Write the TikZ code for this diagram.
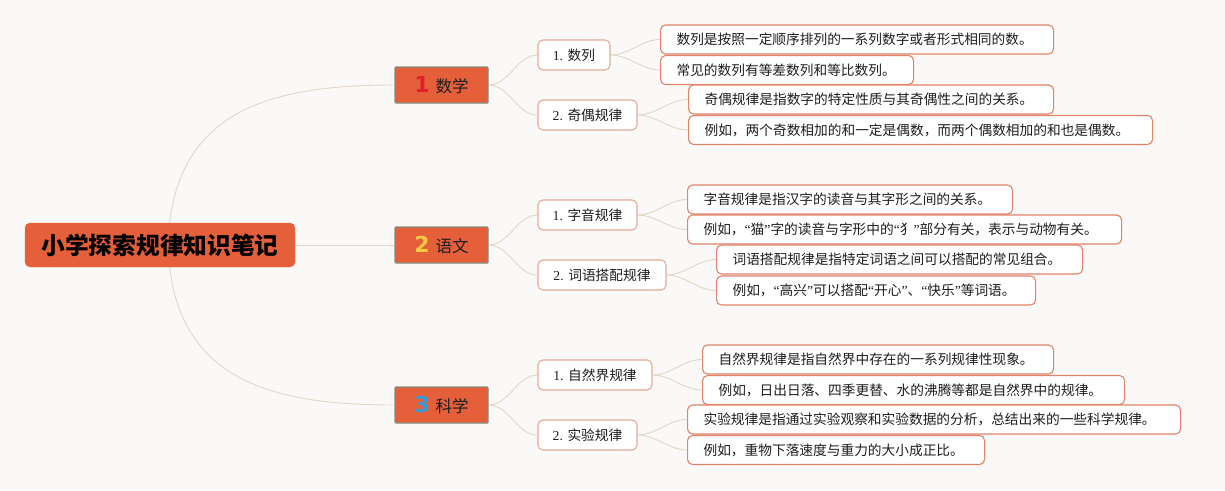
\documentclass[tikz,border=0pt]{standalone}
\usepackage{fontspec}
\setmainfont{Liberation Serif}
\newfontfamily\cjk{Noto Sans CJK SC}
\newfontfamily\numfont{DejaVu Sans}
\newfontfamily\qfont{Liberation Serif}
\newcommand\myoq{{\qfont “}}
\newcommand\mycq{{\qfont ”}}
\newcommand\ltxt[2]{\makebox[\dimexpr#1pt-32pt\relax][l]{#2}}
\definecolor{bg}{HTML}{FAF9F8}
\definecolor{orng}{HTML}{E5603A}
\definecolor{lonebd}{HTML}{868A78}
\definecolor{ltwobd}{HTML}{E2AC98}
\definecolor{lthreebd}{HTML}{E0846A}
\definecolor{link}{HTML}{E3D6C6}
\definecolor{txt}{HTML}{1E1E1E}
\definecolor{nred}{HTML}{E0202A}
\definecolor{nyel}{HTML}{F6C945}
\definecolor{nblu}{HTML}{2F9BDA}
\tikzset{
  rootbox/.style={fill=orng, draw=orng!90!white, rounded corners=5pt, minimum width=270pt, minimum height=44pt, inner sep=2pt, font=\cjk\bfseries\fontsize{23.7}{26}\selectfont, text=black},
  lonebox/.style={fill=orng, draw=lonebd, line width=1.4pt, rounded corners=1pt, minimum width=93pt, minimum height=36pt, inner sep=2pt, font=\cjk\fontsize{16.5}{18}\selectfont, text=txt},
  ltwobox/.style={fill=white, draw=ltwobd, line width=1.1pt, rounded corners=5pt, minimum height=30pt, inner sep=2pt, font=\fontsize{13.7}{15}\selectfont, text=txt},
  lthreebox/.style={fill=white, draw=lthreebd, line width=1.1pt, rounded corners=5pt, minimum height=29pt, inner ysep=2pt, inner xsep=16pt, anchor=west, font=\cjk\fontsize{13.7}{15}\selectfont, text=txt},
  conn/.style={draw=link, line width=0.9pt},
  sconn/.style={conn, out=0, in=180, looseness=0.9}
}
\begin{document}
\begin{tikzpicture}[x=1pt,y=-1pt]
\fill[bg] (0,0) rectangle (1225,490);
\useasboundingbox (0,0) rectangle (1225,490);
% level 1
\node[lonebox] (a) at (441.5,85) {{\numfont\bfseries\fontsize{22}{24}\selectfont\color{nred}1}\hspace{6pt}数学};
\node[lonebox] (b) at (441.5,245) {{\numfont\bfseries\fontsize{22}{24}\selectfont\color{nyel}2}\hspace{6pt}语文};
\node[lonebox] (c) at (441.5,405) {{\numfont\bfseries\fontsize{22}{24}\selectfont\color{nblu}3}\hspace{6pt}科学};
% root connectors (behind root)
\coordinate (ra) at (168,245);
\coordinate (rc) at (168,245);
\draw[conn] (ra) .. controls (172,110) and (270,85) .. (a.west);
\draw[conn] (rc) .. controls (172,380) and (270,405) .. (c.west);
\node[rootbox] (root) at (160,245) {小学探索规律知识笔记};
\draw[conn] (root.east) -- (b.west);
% level 2
\node[ltwobox, minimum width=72pt] (a1) at (574,55) {1. {\cjk 数列}};
\node[ltwobox, minimum width=99pt] (a2) at (587.5,115) {2. {\cjk 奇偶规律}};
\node[ltwobox, minimum width=99pt] (b1) at (587.5,215) {1. {\cjk 字音规律}};
\node[ltwobox, minimum width=128pt] (b2) at (602,275) {2. {\cjk 词语搭配规律}};
\node[ltwobox, minimum width=114pt] (c1) at (595,375) {1. {\cjk 自然界规律}};
\node[ltwobox, minimum width=99pt] (c2) at (587.5,435) {2. {\cjk 实验规律}};
% level 3
\node[lthreebox] (a11) at (660,39.5) {\ltxt{393}{数列是按照一定顺序排列的一系列数字或者形式相同的数。}};
\node[lthreebox] (a12) at (660,70) {\ltxt{253}{常见的数列有等差数列和等比数列。}};
\node[lthreebox] (a21) at (688,99.5) {\ltxt{365}{奇偶规律是指数字的特定性质与其奇偶性之间的关系。}};
\node[lthreebox] (a22) at (688,130) {\ltxt{464}{例如，两个奇数相加的和一定是偶数，而两个偶数相加的和也是偶数。}};
\node[lthreebox] (b11) at (687,199.5) {\ltxt{325}{字音规律是指汉字的读音与其字形之间的关系。}};
\node[lthreebox] (b12) at (687,229.5) {\ltxt{434}{例如，\myoq 猫\mycq 字的读音与字形中的\myoq 犭\mycq 部分有关，表示与动物有关。}};
\node[lthreebox] (b21) at (716,259.5) {\ltxt{366}{词语搭配规律是指特定词语之间可以搭配的常见组合。}};
\node[lthreebox] (b22) at (716,290.5) {\ltxt{319}{例如，\myoq 高兴\mycq 可以搭配\myoq 开心\mycq 、\myoq 快乐\mycq 等词语。}};
\node[lthreebox] (c11) at (702,359.5) {\ltxt{351}{自然界规律是指自然界中存在的一系列规律性现象。}};
\node[lthreebox] (c12) at (702,390) {\ltxt{422}{例如，日出日落、四季更替、水的沸腾等都是自然界中的规律。}};
\node[lthreebox] (c21) at (687,419.5) {\ltxt{493}{实验规律是指通过实验观察和实验数据的分析，总结出来的一些科学规律。}};
\node[lthreebox] (c22) at (687,450) {\ltxt{297}{例如，重物下落速度与重力的大小成正比。}};
% connectors L1-L2
\draw[conn] (a.east) to[sconn] (a1.west);
\draw[conn] (a.east) to[sconn] (a2.west);
\draw[conn] (b.east) to[sconn] (b1.west);
\draw[conn] (b.east) to[sconn] (b2.west);
\draw[conn] (c.east) to[sconn] (c1.west);
\draw[conn] (c.east) to[sconn] (c2.west);
% connectors L2-L3
\draw[conn] (a1.east) to[sconn] (a11.west);
\draw[conn] (a1.east) to[sconn] (a12.west);
\draw[conn] (a2.east) to[sconn] (a21.west);
\draw[conn] (a2.east) to[sconn] (a22.west);
\draw[conn] (b1.east) to[sconn] (b11.west);
\draw[conn] (b1.east) to[sconn] (b12.west);
\draw[conn] (b2.east) to[sconn] (b21.west);
\draw[conn] (b2.east) to[sconn] (b22.west);
\draw[conn] (c1.east) to[sconn] (c11.west);
\draw[conn] (c1.east) to[sconn] (c12.west);
\draw[conn] (c2.east) to[sconn] (c21.west);
\draw[conn] (c2.east) to[sconn] (c22.west);
\end{tikzpicture}
\end{document}
